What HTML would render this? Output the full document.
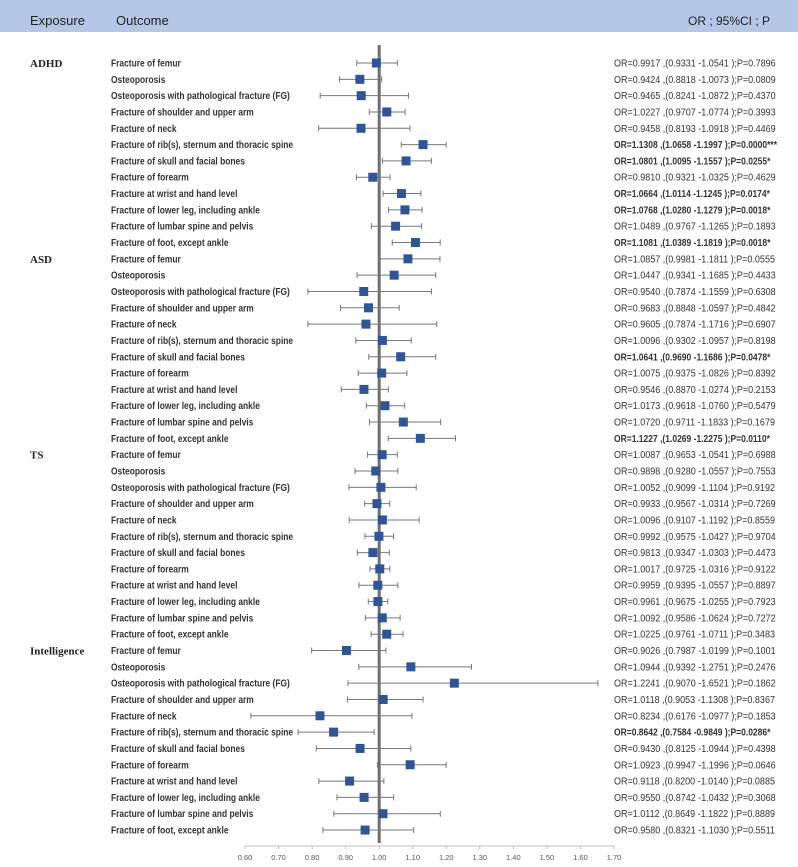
<!DOCTYPE html>
<html><head><meta charset="utf-8">
<style>
body{margin:0;width:798px;height:867px;background:#fff;overflow:hidden;font-family:"Liberation Sans",sans-serif;}
svg{display:block}
</style></head>
<body>
<svg id="chart" width="798" height="867">
<rect x="0" y="0" width="798" height="32" fill="#b4c7e7"/>
<text x="30" y="25" font-size="13" fill="#222">Exposure</text>
<text x="116" y="25" font-size="13" fill="#222">Outcome</text>
<text x="688" y="25" font-size="12" fill="#222">OR ; 95%CI ; P</text>
</svg>
<script>
const exposures=["ADHD","ASD","TS","Intelligence"];
const outcomes=["Fracture of femur","Osteoporosis","Osteoporosis with pathological fracture (FG)","Fracture of shoulder and upper arm","Fracture of neck","Fracture of rib(s), sternum and thoracic spine","Fracture of skull and facial bones","Fracture of forearm","Fracture at wrist and hand level","Fracture of lower leg, including ankle","Fracture of lumbar spine and pelvis","Fracture of foot, except ankle"];
const orVals=[0.9917,0.9424,0.9465,1.0227,0.9458,1.1308,1.0801,0.9810,1.0664,1.0768,1.0489,1.1081,
1.0857,1.0447,0.9540,0.9683,0.9605,1.0096,1.0641,1.0075,0.9546,1.0173,1.0720,1.1227,
1.0087,0.9898,1.0052,0.9933,1.0096,0.9992,0.9813,1.0017,0.9959,0.9961,1.0092,1.0225,
0.9026,1.0944,1.2241,1.0118,0.8234,0.8642,0.9430,1.0923,0.9118,0.9550,1.0112,0.9580];
const lowVals=[0.9331,0.8818,0.8241,0.9707,0.8193,1.0658,1.0095,0.9321,1.0114,1.0280,0.9767,1.0389,
0.9981,0.9341,0.7874,0.8848,0.7874,0.9302,0.9690,0.9375,0.8870,0.9618,0.9711,1.0269,
0.9653,0.9280,0.9099,0.9567,0.9107,0.9575,0.9347,0.9725,0.9395,0.9675,0.9586,0.9761,
0.7987,0.9392,0.9070,0.9053,0.6176,0.7584,0.8125,0.9947,0.8200,0.8742,0.8649,0.8321];
const highVals=[1.0541,1.0073,1.0872,1.0774,1.0918,1.1997,1.1557,1.0325,1.1245,1.1279,1.1265,1.1819,
1.1811,1.1685,1.1559,1.0597,1.1716,1.0957,1.1686,1.0826,1.0274,1.0760,1.1833,1.2275,
1.0541,1.0557,1.1104,1.0314,1.1192,1.0427,1.0303,1.0316,1.0557,1.0255,1.0624,1.0711,
1.0199,1.2751,1.6521,1.1308,1.0977,0.9849,1.0944,1.1996,1.0140,1.0432,1.1822,1.1030];
const pVals=["0.7896","0.0809","0.4370","0.3993","0.4469","0.0000***","0.0255*","0.4629","0.0174*","0.0018*","0.1893","0.0018*",
"0.0555","0.4433","0.6308","0.4842","0.6907","0.8198","0.0478*","0.8392","0.2153","0.5479","0.1679","0.0110*",
"0.6988","0.7553","0.9192","0.7269","0.8559","0.9704","0.4473","0.9122","0.8897","0.7923","0.7272","0.3483",
"0.1001","0.2476","0.1862","0.8367","0.1853","0.0286*","0.4398","0.0646","0.0885","0.3068","0.8889","0.5511"];
const ticks=[0.6,0.7,0.8,0.9,1.0,1.1,1.2,1.3,1.4,1.5,1.6,1.7];

const NS="http://www.w3.org/2000/svg";
const svg=document.getElementById('chart');
const x0=245,x1=614,vmin=0.6,vmax=1.7;
const xs=v=>x0+(v-vmin)/(vmax-vmin)*(x1-x0);
const y0=63,dy=16.32;
const ys=i=>y0+i*dy;
function mk(tag,attrs){const e=document.createElementNS(NS,tag);for(const k in attrs)e.setAttribute(k,attrs[k]);svg.appendChild(e);return e;}
function squeeze(el,f){const w=el.getComputedTextLength();el.setAttribute('textLength',w*f);el.setAttribute('lengthAdjust','spacingAndGlyphs');}
const ref=mk('line',{x1:xs(1),x2:xs(1),y1:45,y2:843,stroke:'#6f6f6f','stroke-width':3});


const ax=mk('line',{x1:x0,x2:x1,y1:846,y2:846,stroke:'#bfbfbf','stroke-width':1});


ticks.forEach(t=>{
  const tl=mk('line',{x1:xs(t),x2:xs(t),y1:846,y2:849,stroke:'#bfbfbf'});
  
  
  const tx=mk('text',{x:xs(t),y:860,'font-size':7.5,'text-anchor':'middle',fill:'#555'});
  tx.textContent=t.toFixed(2);
  
  
});
exposures.forEach((ex,g)=>{
  const t=mk('text',{x:30,y:ys(g*12)+4,'font-size':11,'font-weight':'bold','font-family':'Liberation Serif,serif',fill:'#222'});
  t.textContent=ex;
  
  
});
orVals.forEach((v,i)=>{
  const y=ys(i);
  const lab=mk('text',{x:111,y:y+3.5,'font-size':9.8,'font-weight':'bold',fill:'#333'});
  lab.textContent=outcomes[i%12];
  
  
  squeeze(lab,0.86);
  const l=xs(lowVals[i]),h=xs(highVals[i]);
  const ci=mk('line',{x1:l,x2:h,y1:y,y2:y,stroke:'#777','stroke-width':1});
  
  
  [l,h].forEach(xx=>{
    const c=mk('line',{x1:xx,x2:xx,y1:y-3,y2:y+3,stroke:'#777','stroke-width':1});
    
    
  });
  const sq=mk('rect',{x:xs(v)-4.5,y:y-4.5,width:9,height:9,fill:'#2f5597'});
  
  
  const sig=pVals[i].includes('*');
  const tx=mk('text',{x:614,y:y+3.5,'font-size':10,fill:'#333','font-weight':sig?'bold':'normal'});
  tx.textContent='OR='+v.toFixed(4)+' ,('+lowVals[i].toFixed(4)+' -'+highVals[i].toFixed(4)+' );P='+pVals[i];
  
  
  squeeze(tx,sig?0.85:0.9);
});
</script>
</body></html>
